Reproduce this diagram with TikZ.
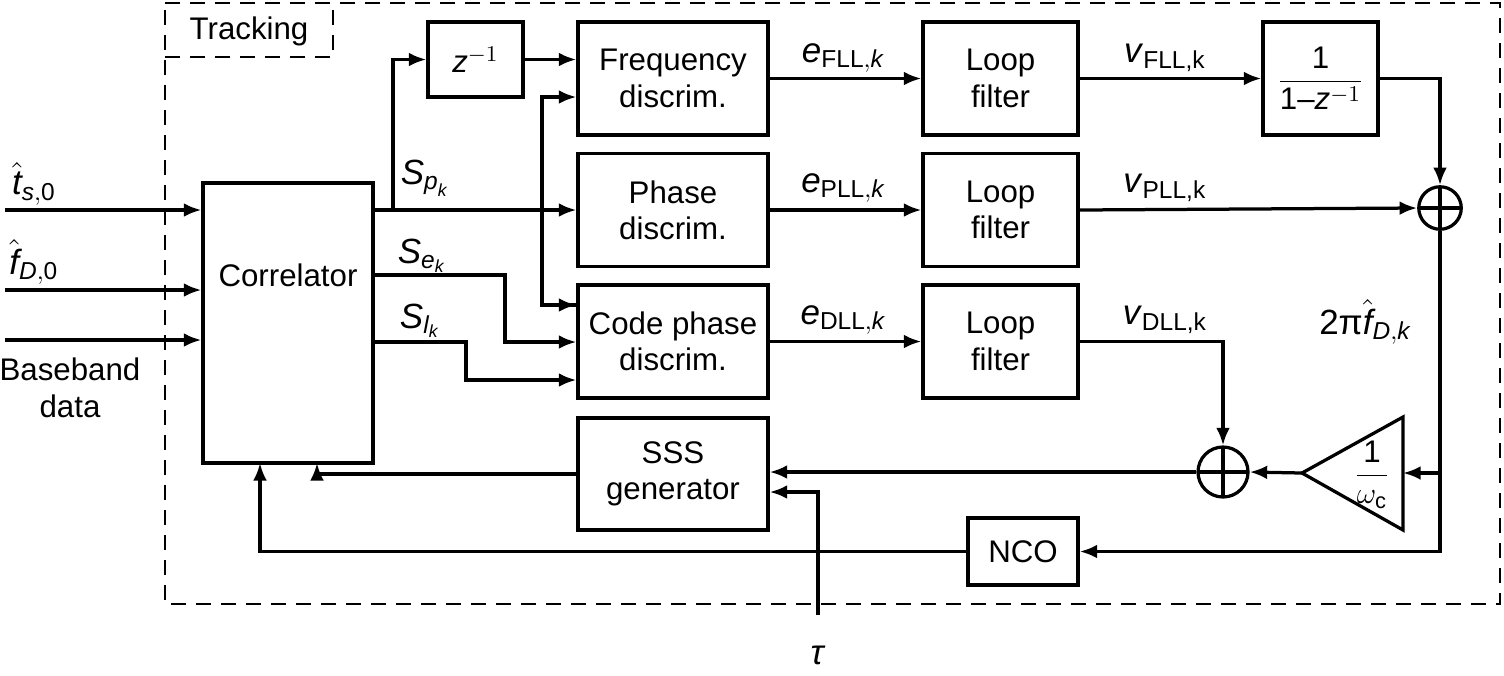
\documentclass[tikz,border=0pt]{standalone}
\usepackage{amsmath}
\usepackage{fontspec}
\setmainfont{Liberation Sans}
\usetikzlibrary{arrows.meta}
\begin{document}
\begin{tikzpicture}[x=0.4pt,y=-0.4pt,
  every node/.style={font=\fontsize{12.5}{14.5}\selectfont},
  box/.style={draw,line width=1.3pt,align=center,inner sep=0pt},
  sum/.style={draw,circle,line width=1.3pt,inner sep=0pt,
    path picture={\draw[line width=1.3pt] (path picture bounding box.north) -- (path picture bounding box.south)
      (path picture bounding box.west) -- (path picture bounding box.east);}},
  ln/.style={line width=1.3pt},
  arr/.style={line width=1.3pt,-{Latex[length=7pt,width=5.5pt]}},
  lbl/.style={inner sep=1pt,font=\fontsize{14}{16}\selectfont}]
\useasboundingbox (0,0) rectangle (1504,675);
% tracking dashed frame
\draw[line width=0.9pt,dash pattern=on 6pt off 4pt] (165,3) -- (1500,3) -- (1500,604) -- (165,604) -- cycle;
\draw[line width=0.9pt,dash pattern=on 6pt off 4pt] (165,57) -- (333,57) -- (333,3);
\node (trk) at (249,31) {Tracking};
% blocks
\node[box,minimum width=68pt,minimum height=112pt] (corr) at (288,323) {};
\node (corrt) at (288,275) {Correlator};
\node[box,minimum width=38pt,minimum height=30pt] (zinv) at (475.5,59.5) {\textit{z}$^{-1}$};
\node[box,minimum width=76pt,minimum height=45.2pt] (fd) at (673,78.5) {Frequency\\discrim.};
\node[box,minimum width=76pt,minimum height=45.2pt] (pd) at (673,210) {Phase\\discrim.};
\node[box,minimum width=76pt,minimum height=45.2pt] (cd) at (673,341.5) {Code phase\\discrim.};
\node[box,minimum width=62pt,minimum height=45.2pt] (lf1) at (1000.5,78.5) {Loop\\filter};
\node[box,minimum width=62pt,minimum height=45.2pt] (lf2) at (1000.5,210) {Loop\\filter};
\node[box,minimum width=62pt,minimum height=45.2pt] (lf3) at (1000.5,341.5) {Loop\\filter};
\node[box,minimum width=46pt,minimum height=45.2pt] (integ) at (1320.5,78.5) {$\dfrac{\text{1}}{\text{1}\text{--}\textit{z}^{-1}}$};
\node[box,minimum width=76pt,minimum height=44.8pt] (sss) at (673,474) {SSS\\generator};
\node[box,minimum width=44pt,minimum height=26.8pt] (nco) at (1023,551.5) {NCO};
\node[sum,minimum size=17pt] (s1) at (1440,208) {};
\node[sum,minimum size=20pt] (s2) at (1223,472) {};
% triangle gain
\coordinate (tip) at (1302,473);
\coordinate (tin) at (1403,473);
\draw[ln,line join=miter] (tip) -- (1403,417) -- (1403,530) -- cycle;
\node (gain) at (1372,475) {$\dfrac{\text{1}}{\omega_{\text{c}}}$};
% inputs
\coordinate (i1) at (5,210); \coordinate (i2) at (5,290); \coordinate (i3) at (5,340);
\draw[arr] (i1) -- (i1 -| corr.west);
\draw[arr] (i2) -- (i2 -| corr.west);
\draw[arr] (i3) -- (i3 -| corr.west);
\node[lbl] (l1) at (34,184) {$\hat{\textit{t}}_{\textit{s},\text{0}}$};
\node[lbl] (l2) at (34,262) {$\hat{\textit{f}}_{\textit{D},\text{0}}$};
\node[align=center,font=\fontsize{12.5}{15}\selectfont] (l3) at (70,388) {Baseband\\data};
% correlator outputs
\coordinate (br) at (393,210);
\draw[arr] (corr.east |- br) -- (br -| pd.west);
\draw[arr] (br) |- (zinv.west);
\draw[arr] (zinv.east) -- (zinv.east -| fd.west);
\coordinate (fb) at (542,97);
\draw[arr] (fd.west |- 0,305) -| (fb) -- (fb -| fd.west);
\draw[arr] (542,305) -- (cd.west |- 0,305);
\draw[arr] (corr.east |- 0,275) -- (505,275) |- (cd.west |- 0,342);
\draw[arr] (corr.east |- 0,342) -- (466,342) |- (cd.west |- 0,380);
\node[lbl] (sp) at (425,178) {$\textit{S}_{\textit{p}_{\textit{k}}}$};
\node[lbl] (se) at (422,256) {$\textit{S}_{\textit{e}_{\textit{k}}}$};
\node[lbl] (sl) at (420,321) {$\textit{S}_{\textit{l}_{\textit{k}}}$};
% discrim -> loop filter
\draw[arr] (fd.east) -- (lf1.west);
\draw[arr] (pd.east) -- (lf2.west);
\draw[arr] (cd.east) -- (lf3.west);
\node[lbl] (e1) at (843,58) {$\textit{e}_{\text{FLL},\textit{k}}$};
\node[lbl] (e2) at (843,188) {$\textit{e}_{\text{PLL},\textit{k}}$};
\node[lbl] (e3) at (843,320) {$\textit{e}_{\text{DLL},\textit{k}}$};
% loop filter outputs
\draw[arr] (lf1.east) -- (integ.west);
\draw[arr] (integ.east) -| (s1.north);
\draw[arr] (lf2.east) -- (s1.west);
\draw[arr] (lf3.east) -| (s2.north);
\node[lbl] (v1) at (1165,58) {\textit{v}$_{\text{FLL,k}}$};
\node[lbl] (v2) at (1165,188) {\textit{v}$_{\text{PLL,k}}$};
\node[lbl] (v3) at (1165,320) {\textit{v}$_{\text{DLL,k}}$};
% feedback
\draw[arr] (s1.south) |- (nco.east);
\draw[arr] (1440,473) -- (tin);
\draw[arr] (tip) -- (s2.east);
\draw[arr] (s2.west) -- (s2.west -| sss.east);
\draw[arr] (sss.west) -| (317,463);
\draw[arr] (nco.west) -| (260,463);
\node[lbl] (fdk) at (1365,322) {2π$\hat{\textit{f}}_{\textit{D},\textit{k}}$};
% tau
\coordinate (tau0) at (818,615);
\draw[arr] (tau0) |- (sss.east |- 0,492);
\node[lbl] (tau) at (818,655) {\textit{τ}};
\end{tikzpicture}
\end{document}
